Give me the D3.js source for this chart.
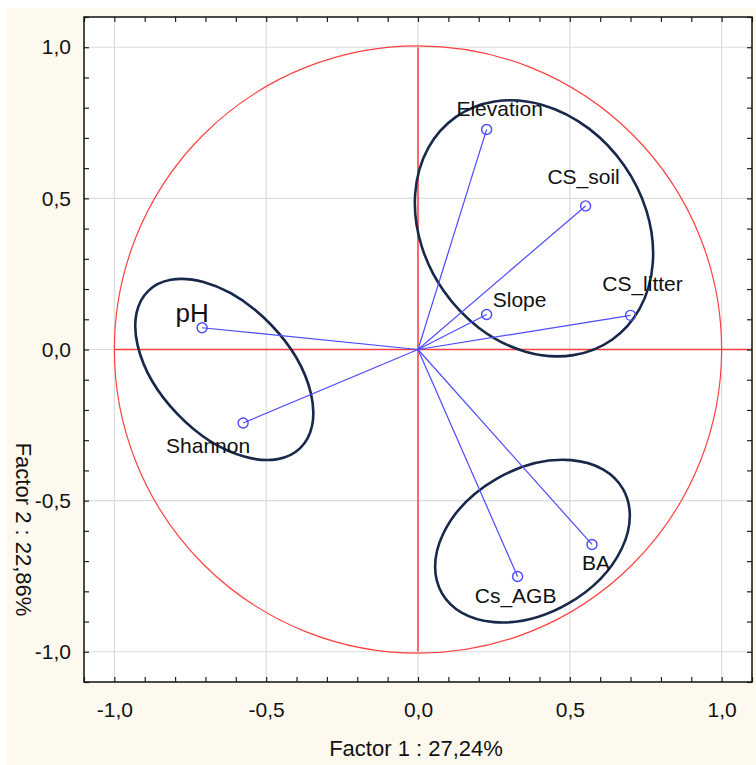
<!DOCTYPE html>
<html>
<head>
<meta charset="utf-8">
<script src="https://cdn.jsdelivr.net/npm/d3@7"></script>
<style>
  html, body { margin: 0; padding: 0; background: #fff; }
  svg { display: block; font-family: "Liberation Sans", Arial, sans-serif; }
</style>
</head>
<body>
<div id="chart"></div>
<script>
// variable names and their loadings on factor 1 / factor 2
const variables = ["Elevation", "CS_soil", "Slope", "CS_litter", "pH", "Shannon", "Cs_AGB", "BA"];
const factor1 = [0.226, 0.552, 0.226, 0.700, -0.711, -0.576, 0.328, 0.573];
const factor2 = [0.728, 0.475, 0.116, 0.113, 0.072, -0.243, -0.751, -0.645];

const majorTicks = [-1.0, -0.5, 0.0, 0.5, 1.0];
const xTitle = "Factor 1 : 27,24%";
const yTitle = "Factor 2 : 22,86%";

// hand drawn groupings (centre x, centre y, semi axes in factor units, tilt in degrees)
const groupCx = [0.382, -0.638, 0.377];
const groupCy = [0.401, -0.066, -0.634];
const groupRx = [0.448, 0.360, 0.344];
const groupRy = [0.362, 0.213, 0.237];
const groupTilt = [55, 46, -30];

// label placement relative to the point (px), not data
const labelPos = {
	"Elevation": [13, -13, 21],
	"CS_soil": [-2, -22, 21],
	"Slope": [33, -7, 21],
	"CS_litter": [12, -24, 21],
	"pH": [-10, -6, 26],
	"Shannon": [-35, 30, 21],
	"Cs_AGB": [-2, 26, 21],
	"BA": [4, 26, 21]
};

const W = 756, H = 765;
const frame = { left: 84, right: 752, top: 17, bottom: 682 };

const svg = d3.select('#chart').append('svg')
	.attr('width', W)
	.attr('height', H)
	.attr('viewBox', `0 0 ${W} ${H}`);

svg.append('rect')
	.attr('x', 7).attr('y', 8)
	.attr('width', W - 7).attr('height', H - 8)
	.attr('fill', '#fdf9ef');

const x = d3.scaleLinear().domain([-1.1, 1.1]).range([frame.left, frame.right]);
const y = d3.scaleLinear().domain([-1.1, 1.1]).range([frame.bottom, frame.top]);
const pxPerUnit = x(1) - x(0);

const locale = d3.formatLocale({ decimal: ",", thousands: ".", grouping: [3], currency: ["", ""], minus: "-" });
const fmt = locale.format(".1f");

svg.append('rect')
	.attr('x', frame.left).attr('y', frame.top)
	.attr('width', frame.right - frame.left)
	.attr('height', frame.bottom - frame.top)
	.attr('fill', '#fff');

// grid
const grid = svg.append('g').attr('stroke', '#dcdcdc').attr('stroke-width', 1.2);
grid.selectAll('.gx').data(majorTicks).enter().append('line')
	.attr('x1', d => x(d)).attr('x2', d => x(d))
	.attr('y1', frame.top).attr('y2', frame.bottom);
grid.selectAll('.gy').data(majorTicks).enter().append('line')
	.attr('y1', d => y(d)).attr('y2', d => y(d))
	.attr('x1', frame.left).attr('x2', frame.right);

// unit circle and red axes
const red = '#ff4040';
svg.append('circle')
	.attr('cx', x(0)).attr('cy', y(0))
	.attr('r', pxPerUnit)
	.attr('fill', 'none').attr('stroke', red).attr('stroke-width', 1.2);
svg.append('line')
	.attr('x1', x(-1)).attr('x2', x(1.1))
	.attr('y1', y(0)).attr('y2', y(0))
	.attr('stroke', red).attr('stroke-width', 1.5);
svg.append('line')
	.attr('x1', x(0)).attr('x2', x(0))
	.attr('y1', y(1)).attr('y2', y(-1))
	.attr('stroke', red).attr('stroke-width', 1.5);

// grouping ellipses
const groups = groupCx.map((cx, i) => ({ cx, cy: groupCy[i], rx: groupRx[i], ry: groupRy[i], tilt: groupTilt[i] }));
svg.append('g').selectAll('ellipse')
	.data(groups)
	.enter().append('ellipse')
	.attr('transform', d => `translate(${x(d.cx)},${y(d.cy)}) rotate(${d.tilt})`)
	.attr('rx', d => d.rx * pxPerUnit)
	.attr('ry', d => d.ry * pxPerUnit)
	.attr('fill', 'none')
	.attr('stroke', '#17284a')
	.attr('stroke-width', 2.6);

// vectors
const data = variables.map((name, i) => ({ name, f1: factor1[i], f2: factor2[i] }));
const blue = '#4b4bff';
const vec = svg.append('g');
vec.selectAll('line')
	.data(data)
	.enter().append('line')
	.attr('x1', x(0)).attr('y1', y(0))
	.attr('x2', d => x(d.f1)).attr('y2', d => y(d.f2))
	.attr('stroke', blue).attr('stroke-width', 1.2);
vec.selectAll('circle')
	.data(data)
	.enter().append('circle')
	.attr('cx', d => x(d.f1)).attr('cy', d => y(d.f2))
	.attr('r', 5)
	.attr('fill', 'none').attr('stroke', blue).attr('stroke-width', 1.4);
vec.selectAll('text')
	.data(data)
	.enter().append('text')
	.attr('x', d => x(d.f1) + labelPos[d.name][0])
	.attr('y', d => y(d.f2) + labelPos[d.name][1])
	.attr('text-anchor', 'middle')
	.attr('font-size', d => labelPos[d.name][2])
	.attr('fill', '#111')
	.text(d => d.name);

// minor ticks every 0.1 on all four sides, pointing inward
const minor = d3.range(-11, 12).map(v => v / 10);
const tickLen = 5;
const tickAxes = [
	[d3.axisBottom(x), `translate(0,${frame.bottom})`],
	[d3.axisTop(x), `translate(0,${frame.top})`],
	[d3.axisLeft(y), `translate(${frame.left},0)`],
	[d3.axisRight(y), `translate(${frame.right},0)`]
];
tickAxes.forEach(([ax, tr]) => {
	const g = svg.append('g')
		.attr('transform', tr)
		.call(ax.tickValues(minor).tickSize(-tickLen).tickSizeOuter(0).tickFormat(''));
	g.select('.domain').remove();
	g.selectAll('line').attr('stroke', '#222').attr('stroke-width', 1.2);
});

// frame
svg.append('rect')
	.attr('x', frame.left).attr('y', frame.top)
	.attr('width', frame.right - frame.left)
	.attr('height', frame.bottom - frame.top)
	.attr('fill', 'none').attr('stroke', '#111').attr('stroke-width', 1.5);

// tick labels
const xLab = svg.append('g')
	.attr('transform', `translate(0,${frame.bottom})`)
	.call(d3.axisBottom(x).tickValues(majorTicks).tickSize(0).tickPadding(20).tickFormat(fmt));
xLab.select('.domain').remove();
xLab.selectAll('text').attr('font-size', 21).attr('font-family', '"Liberation Sans", Arial, sans-serif').attr('fill', '#111');

const yLab = svg.append('g')
	.attr('transform', `translate(${frame.left},0)`)
	.call(d3.axisLeft(y).tickValues(majorTicks).tickSize(0).tickPadding(13).tickFormat(fmt));
yLab.select('.domain').remove();
yLab.selectAll('text').attr('font-size', 21).attr('font-family', '"Liberation Sans", Arial, sans-serif').attr('fill', '#111');

// axis titles
svg.append('text')
	.attr('x', 416).attr('y', 756)
	.attr('text-anchor', 'middle')
	.attr('font-size', 22)
	.attr('fill', '#111')
	.text(xTitle);
svg.append('text')
	.attr('transform', 'translate(15.5,529.5) rotate(90)')
	.attr('text-anchor', 'middle')
	.attr('font-size', 22)
	.attr('fill', '#111')
	.text(yTitle);
</script>
</body>
</html>
